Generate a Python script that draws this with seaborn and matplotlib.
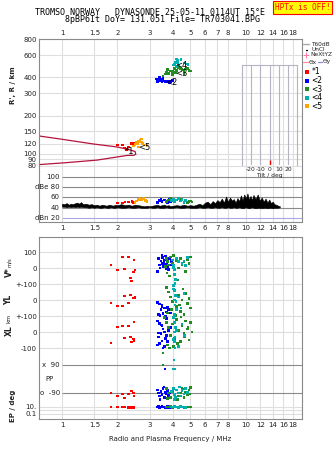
import numpy as np
import pandas as pd
import matplotlib
matplotlib.use("Agg")
import matplotlib.pyplot as plt
import seaborn as sns
from matplotlib.ticker import FixedLocator, NullLocator, FixedFormatter
from matplotlib.lines import Line2D

# ---------------- data ----------------
freq_ticks = [1, 1.5, 2, 3, 4, 5, 6, 7, 8, 10, 12, 14, 16, 18]
freq_labels = ["1", "1.5", "2", "3", "4", "5", "6", "7", "8", "10", "12", "14", "16", "18"]
height_ticks = [800, 600, 400, 300, 200, 150, 120, 100, 90, 80]

# model profile line (freq MHz, height km)
model_f = [0.75, 1.0, 1.5, 2.0, 2.35, 2.5, 2.52, 2.45, 2.27, 1.55, 1.06, 0.75]
model_h = [138, 130, 119, 113, 107, 104, 99, 97, 97, 89, 85, 82]

# echo traces: virtual height
h_red_f = [2.0, 2.13, 2.18, 2.3, 2.38, 2.44, 2.25]
h_red_v = [117, 117, 111, 113, 120, 121, 108]
h_orange_f = [2.45, 2.5, 2.55, 2.6, 2.65, 2.7, 2.75, 2.8, 2.9, 2.6, 2.7, 2.58]
h_orange_v = [115, 118, 122, 125, 128, 124, 120, 117, 116, 113, 131, 119]
h_blue_f = [3.25, 3.3, 3.35, 3.4, 3.45, 3.5, 3.55, 3.6, 3.65, 3.7, 3.75, 3.8, 3.85, 3.9, 3.95, 4.0, 3.4, 3.55, 3.3]
h_blue_v = [390, 380, 385, 378, 385, 372, 380, 375, 372, 370, 368, 372, 365, 370, 375, 378, 400, 395, 372]
h_green_f = [3.55, 3.65, 3.7, 3.8, 3.9, 4.0, 4.1, 4.2, 4.3, 4.4, 4.5, 4.6, 4.7, 4.8, 4.9, 5.0, 4.6, 3.75, 4.0, 4.15]
h_green_v = [410, 425, 440, 430, 450, 445, 470, 455, 480, 470, 460, 450, 465, 470, 455, 450, 430, 460, 420, 440]
h_cyan_f = [4.05, 4.1, 4.15, 4.2, 4.25, 4.3, 4.2, 4.6, 4.75, 4.45, 4.25, 4.85]
h_cyan_v = [500, 510, 530, 560, 520, 500, 490, 520, 510, 557, 545, 505]

# amplitude (dB) trace
amp_f = [1.00, 1.03, 1.06, 1.09, 1.12, 1.15, 1.18, 1.21, 1.24, 1.27, 1.30, 1.35, 1.40, 1.45,
         1.50, 1.55, 1.60, 1.65, 1.70, 1.75, 1.80, 1.85, 1.90, 1.95, 2.00, 2.1, 2.2, 2.3, 2.4,
         2.5, 2.6, 2.7, 2.8, 2.9, 3.0, 3.1, 3.2, 3.3, 3.4, 3.5, 3.6, 3.7, 3.8, 3.9, 4.0, 4.2,
         4.4, 4.6, 4.8, 5.0, 5.2, 5.4, 5.6, 5.8, 6.0, 6.2, 6.4, 6.6, 6.8, 7.0, 7.2, 7.4, 7.6,
         7.8, 8.0, 8.2, 8.4, 8.6, 8.8, 9.0, 9.2, 9.4, 9.6, 9.8, 10.0, 10.2, 10.4, 10.6, 10.8,
         11.0, 11.3, 11.6, 11.9, 12.2, 12.5, 12.8, 13.1, 13.4, 13.7, 14.0, 14.3, 14.6, 15.0, 15.3]
amp_hi = [48, 47, 49, 46, 48, 47, 49, 50, 48, 51, 47, 48, 46, 47,
          45, 46, 44, 46, 45, 44, 46, 45, 44, 46, 45, 47, 45, 46, 44,
          46, 45, 44, 43, 44, 43, 44, 45, 46, 44, 45, 46, 44, 45, 43, 44, 45,
          44, 46, 44, 45, 44, 46, 48, 45, 50, 52, 47, 53, 49, 55, 51, 58, 50,
          62, 52, 60, 54, 57, 50, 59, 53, 64, 55, 66, 58, 68, 56, 63, 55,
          65, 57, 66, 54, 60, 52, 58, 50, 56, 49, 52, 47, 46, 44, 43]
amp_lo = [42, 42, 41, 42, 41, 42, 41, 42, 41, 42, 41, 41, 40, 41,
          40, 41, 40, 40, 41, 40, 40, 41, 40, 40, 41, 40, 40, 41, 40,
          40, 41, 40, 40, 40, 41, 40, 40, 41, 40, 40, 40, 41, 40, 40, 40, 41,
          40, 40, 41, 40, 40, 40, 41, 40, 40, 41, 40, 40, 41, 40, 40, 41, 40,
          40, 41, 40, 40, 41, 40, 40, 41, 40, 39, 40, 41, 40, 39, 40, 41,
          40, 39, 40, 40, 39, 40, 40, 39, 40, 40, 39, 40, 40, 40, 41]

a_red_f = [2.0, 2.13, 2.2, 2.3, 2.4, 2.45]
a_red_v = [49, 49, 51, 51, 52, 50]
a_orange_f = [2.5, 2.55, 2.6, 2.65, 2.7, 2.75, 2.8, 2.85, 2.9]
a_orange_v = [50, 53, 56, 58, 55, 57, 59, 54, 52]
a_blue_f = [3.3, 3.4, 3.45, 3.5, 3.6, 3.7, 3.75, 3.85, 3.9]
a_blue_v = [50, 54, 57, 52, 55, 53, 50, 56, 51]
a_green_f = [3.7, 3.8, 3.9, 4.0, 4.4, 4.5, 4.8, 4.9, 5.0, 5.1]
a_green_v = [52, 55, 58, 53, 57, 55, 50, 52, 53, 51]
a_cyan_f = [3.95, 4.05, 4.1, 4.2, 4.3, 4.4, 4.5, 4.6, 4.7]
a_cyan_v = [54, 57, 52, 55, 58, 53, 56, 50, 54]

# Doppler velocity V* (m/s)
v_red_f = [1.85, 2.13, 2.3, 2.47, 2.0, 2.18, 2.5, 2.44, 2.35, 2.38]
v_red_v = [19, 69, 69, 50, -12, -6, -12, -25, -62, -81]
v_blue_f = [3.35, 3.4, 3.45, 3.5, 3.55, 3.6, 3.65, 3.7, 3.75, 3.8, 3.3, 3.42, 3.58, 3.62, 3.85, 3.9, 3.5, 3.68, 3.78, 3.28, 3.95, 3.52]
v_blue_v = [60, 20, 45, 30, 10, 50, 75, 25, 40, -10, -20, 0, 35, 15, 60, 20, 80, -5, 5, -25, 40, 65]
v_green_f = [3.7, 3.75, 3.8, 3.9, 4.0, 4.2, 4.4, 4.6, 4.8, 5.0, 4.5, 4.1, 3.72, 4.3, 4.9, 4.7, 3.85, 4.05, 3.65, 4.25]
v_green_v = [60, 40, 20, 70, 30, 45, 60, 40, 55, 70, 20, -10, -30, 0, 30, -20, -50, 80, 10, -75]
v_cyan_f = [4.0, 4.05, 4.1, 4.1, 4.15, 4.2, 4.5, 4.6, 4.8, 4.12, 4.3, 4.05, 4.7]
v_cyan_v = [50, 20, -10, -40, -70, 60, 30, 45, 65, -95, 40, 5, 15]

# YL (km)
yl_red_f = [2.18, 2.35, 2.44, 2.47, 1.85, 2.0, 2.13, 2.3, 2.5]
yl_red_v = [25, 31, 12, 12, -19, -37, -37, -19, 15]
yl_blue_f = [3.3, 3.4, 3.5, 3.45, 3.6, 3.7, 3.35, 3.55, 3.8, 3.65, 3.9, 3.5, 3.75, 3.42]
yl_blue_v = [-15, -25, -40, -60, -50, -75, -90, -85, -60, -100, -80, -30, -45, -95]
yl_green_f = [3.7, 3.8, 3.9, 4.0, 4.1, 4.2, 4.3, 4.4, 4.5, 4.6, 4.7, 4.8, 5.0, 3.75, 4.05, 4.35, 4.55, 3.95, 4.9, 4.15]
yl_green_v = [80, 50, 20, -10, 60, -40, 30, -70, 0, -90, 40, -20, -50, -80, 90, -30, 70, -60, 10, -95]
yl_cyan_f = [4.05, 4.1, 4.15, 4.08, 4.12, 4.2, 4.1, 4.3, 4.45, 4.6, 4.05, 4.18]
yl_cyan_v = [90, 60, 30, 0, -30, -60, -90, 20, -50, 40, 70, -10]

# XL (km)
xl_red_f = [2.47, 2.0, 2.13, 2.3, 2.35, 2.18, 2.44, 2.47, 2.38, 1.85]
xl_red_v = [62, 31, 37, 37, -31, -37, -44, -56, -62, -69]
xl_blue_f = [3.3, 3.4, 3.5, 3.55, 3.6, 3.45, 3.7, 3.35, 3.65, 3.8, 3.5, 3.4, 3.75, 3.3, 3.6, 3.9, 3.45, 3.55, 3.7, 3.35]
xl_blue_v = [70, 55, 40, 20, 0, -10, -20, -30, -40, 10, -55, -70, -60, -80, -90, 30, 45, -100, 85, -5]
xl_green_f = [3.6, 3.7, 3.8, 3.9, 4.0, 4.1, 4.2, 4.3, 4.4, 4.5, 4.6, 4.7, 4.8, 4.9, 5.0, 5.1, 3.75, 4.05, 4.25, 4.65, 4.85, 3.85, 4.45]
xl_green_v = [90, 60, 30, -20, 50, -40, 80, 10, -60, 40, -10, 70, 20, -50, 60, 0, -80, -90, -70, -30, 30, -100, 95]
xl_cyan_f = [4.05, 4.1, 4.15, 4.08, 4.12, 4.1, 4.3, 4.5, 4.65, 4.2, 4.05, 4.12]
xl_cyan_v = [90, 60, 30, 0, -30, -60, -90, 50, -20, 10, -45, -100]

# polarization PP (deg)
pp_red_f = [1.85, 2.0, 2.13, 2.18, 2.3, 2.38, 2.44, 2.47]
pp_red_v = [-90, -110, -97, -122, -97, -78, -90, -110]
pp_blue_f = [3.3, 3.35, 3.4, 3.45, 3.5, 3.55, 3.6, 3.65, 3.7, 3.75, 3.8, 3.85, 3.9, 3.42, 3.58, 3.68, 3.63]
pp_blue_v = [-70, -90, -110, -80, -100, -60, -120, -85, -95, -75, -105, -90, -115, -130, -50, -65, 64]
pp_green_f = [3.7, 3.8, 3.9, 4.0, 4.1, 4.2, 4.3, 4.4, 4.5, 4.6, 4.7, 4.8, 4.9, 5.0, 3.75, 4.25, 4.65, 4.95, 3.54, 3.54]
pp_green_v = [-60, -90, -120, -80, -100, -70, -110, -90, -60, -120, -85, -100, -70, -55, -125, -130, -65, -95, 170, 90]
pp_cyan_f = [3.95, 4.05, 4.1, 4.15, 4.2, 4.3, 4.4, 4.5, 4.6, 4.7, 4.8, 4.1, 4.35, 4.06, 4.02, 4.08]
pp_cyan_v = [-80, -60, -100, -120, -70, -90, -110, -75, -95, -60, -85, -130, -50, 122, 64, 64]

# EP (deg)
ep_red_f = [1.85, 2.0, 2.13, 2.18, 2.3, 2.38, 2.44, 2.47]
ep_red_v = [10, 10, 10, 10, 8, 7, 5, 10]
ep_blue_f = [3.3, 3.35, 3.4, 3.45, 3.5, 3.55, 3.6, 3.65, 3.7, 3.75, 3.8, 3.85, 3.9]
ep_blue_v = [10, 12, 8, 10, 14, 9, 11, 7, 10, 13, 8, 5, 10]
ep_green_f = [3.7, 3.8, 3.9, 4.0, 4.1, 4.2, 4.3, 4.4, 4.5, 4.6, 4.7, 4.8, 4.9, 5.0]
ep_green_v = [10, 9, 12, 8, 11, 10, 9, 12, 10, 8, 11, 10, 9, 10]
ep_cyan_f = [3.95, 4.05, 4.1, 4.2, 4.3, 4.4, 4.5, 4.6, 4.7]
ep_cyan_v = [11, 9, 13, 10, 8, 12, 10, 9, 7]

tilt_values = [0]

trace_names = ["*1", "<2", "<3", "<4", "<5"]
trace_colors = ["#ff0000", "#0000ff", "#228b22", "#00b0b0", "#ffa500"]
palette = dict(zip(trace_names, trace_colors))


def frame(pairs):
    rows = []
    for name, fs, vs in pairs:
        for f, v in zip(fs, vs):
            rows.append((name, f, v))
    return pd.DataFrame(rows, columns=["trace", "f", "v"])


df_h = frame([("*1", h_red_f, h_red_v), ("<2", h_blue_f, h_blue_v), ("<3", h_green_f, h_green_v),
              ("<4", h_cyan_f, h_cyan_v), ("<5", h_orange_f, h_orange_v)])
df_a = frame([("*1", a_red_f, a_red_v), ("<5", a_orange_f, a_orange_v), ("<2", a_blue_f, a_blue_v),
              ("<3", a_green_f, a_green_v), ("<4", a_cyan_f, a_cyan_v)])
df_v = frame([("*1", v_red_f, v_red_v), ("<2", v_blue_f, v_blue_v), ("<3", v_green_f, v_green_v),
              ("<4", v_cyan_f, v_cyan_v)])
df_yl = frame([("*1", yl_red_f, yl_red_v), ("<2", yl_blue_f, yl_blue_v), ("<3", yl_green_f, yl_green_v),
               ("<4", yl_cyan_f, yl_cyan_v)])
df_xl = frame([("*1", xl_red_f, xl_red_v), ("<2", xl_blue_f, xl_blue_v), ("<3", xl_green_f, xl_green_v),
               ("<4", xl_cyan_f, xl_cyan_v)])
df_pp = frame([("*1", pp_red_f, pp_red_v), ("<2", pp_blue_f, pp_blue_v), ("<3", pp_green_f, pp_green_v),
               ("<4", pp_cyan_f, pp_cyan_v)])
df_ep = frame([("*1", ep_red_f, ep_red_v), ("<2", ep_blue_f, ep_blue_v), ("<3", ep_green_f, ep_green_v),
               ("<4", ep_cyan_f, ep_cyan_v)])

# ---------------- style ----------------
sns.set_theme(style="white")
plt.rcParams['font.family'] = ['DejaVu Sans']
GRAY = "#8a8a8a"
GRID = "#dedede"
FS = 5

W, H = 335, 451
fig = plt.figure(figsize=(W / 100, H / 100), dpi=100)
L, R = 39, 302
XMIN, XMAX = 0.75, 20.2


def add_ax(top, bottom):
    return fig.add_axes([L / W, 1 - bottom / H, (R - L) / W, (bottom - top) / H])


def setup(ax, spines, labelpos=None):
    ax.set_xscale('log')
    ax.set_xlim(XMIN, XMAX)
    ax.xaxis.set_major_locator(FixedLocator(freq_ticks))
    ax.xaxis.set_minor_locator(NullLocator())
    ax.xaxis.set_major_formatter(FixedFormatter(freq_labels))
    ax.grid(True, axis='x', color=GRID, lw=0.8)
    ax.set_axisbelow(True)
    ax.tick_params(axis='both', length=0, labelsize=FS, colors="#222222")
    ax.tick_params(axis='x', labelbottom=(labelpos == 'bottom'), labeltop=(labelpos == 'top'),
                   pad=2)
    ax.tick_params(axis='y', pad=1.5)
    for s in ['top', 'bottom', 'left', 'right']:
        ax.spines[s].set_visible(s in spines)
        ax.spines[s].set_color(GRAY)
        ax.spines[s].set_linewidth(0.8)
    ax.set_xlabel("")
    ax.set_ylabel("")


def scatter(df, ax, ycol="v"):
    sns.scatterplot(data=df, x="f", y=ycol, hue="trace", palette=palette, marker="s", s=3.5,
                    linewidth=0, legend=False, ax=ax, zorder=4)


# ---- height panel ----
ax1 = add_ax(39, 171)
ax1.set_yscale('log')
sns.lineplot(x=model_f, y=model_h, sort=False, color="#b4143c", lw=0.9, ax=ax1, estimator=None)
scatter(df_h, ax1)
setup(ax1, ['top', 'left', 'right'], 'top')
ax1.set_ylim(73, 805)
ax1.yaxis.set_major_locator(FixedLocator(height_ticks))
ax1.yaxis.set_minor_locator(NullLocator())
ax1.yaxis.set_major_formatter(FixedFormatter([str(t) for t in height_ticks]))
ax1.grid(True, axis='y', color=GRID, lw=0.8)
for txt, f, h in [("*1", 2.32, 105), ("<5", 2.8, 112), ("<2", 3.95, 362), ("<4", 4.45, 500), ("<3", 4.45, 433)]:
    ax1.text(f, h, txt, fontsize=6, ha='center', va='center', color='black', zorder=5)

# ---- amplitude panel ----
ax2 = add_ax(171, 222)
ax2.fill_between(amp_f, amp_lo, amp_hi, color='black', lw=0.4, zorder=3)
scatter(df_a, ax2)
setup(ax2, ['bottom', 'left', 'right'], 'bottom')
ax2.set_ylim(12.2, 111.7)
ax2.set_yticks([])
ax2.hlines([100, 80, 60, 40], 1.0, XMAX, color=GRAY, lw=0.8, zorder=2)
ax2.hlines([20], 1.0, XMAX, color="#a8a8e8", lw=0.8, zorder=2)
for lab, y in [("100", 100), ("dBe 80", 80), ("60", 60), ("40", 40), ("dBn 20", 20)]:
    ax2.text(0.975, y, lab, fontsize=FS, ha='right', va='center', color="#222222")

# ---- V*, YL, XL panel (stacked on one axis; sub-panels offset by 200 units) ----
ax3 = add_ax(237, 352)
OFF_YL, OFF_XL = -200, -400
scatter(df_v, ax3)
df_yl_s = df_yl.assign(y=df_yl["v"] + OFF_YL)
df_xl_s = df_xl.assign(y=df_xl["v"] + OFF_XL)
scatter(df_yl_s, ax3, "y")
scatter(df_xl_s, ax3, "y")
setup(ax3, ['top', 'left', 'right'])
ax3.set_ylim(-525, 194)
ax3.yaxis.set_major_locator(FixedLocator([100, 0, -100, -200, -300, -400, -500]))
ax3.yaxis.set_major_formatter(FixedFormatter(["100", "0", "+-100", "0", "+-100", "0", "-100"]))
ax3.grid(True, axis='y', color=GRID, lw=0.8)

# ---- PP panel ----
ax4 = add_ax(352, 401)
scatter(df_pp, ax4)
setup(ax4, ['left', 'right'])
ax4.set_ylim(-141, 173.5)
ax4.set_yticks([])
ax4.hlines([90, -90], 1.0, XMAX, color=GRAY, lw=0.8, zorder=2)
ax4.text(0.975, 90, "x  90", fontsize=FS, ha='right', va='center', color="#222222")
ax4.text(0.975, -90, "o  -90", fontsize=FS, ha='right', va='center', color="#222222")
ax4.text(0.81, 0, "PP", fontsize=FS, ha='left', va='center', color="#222222")

# ---- EP panel ----
ax5 = add_ax(401, 419)
ax5.set_yscale('log')
scatter(df_ep, ax5)
setup(ax5, ['left', 'right', 'bottom'], 'bottom')
ax5.set_ylim(0.0037, 518)
ax5.yaxis.set_major_locator(FixedLocator([10, 1, 0.1]))
ax5.yaxis.set_minor_locator(NullLocator())
ax5.yaxis.set_major_formatter(FixedFormatter(["10.", "", "0.1"]))
ax5.grid(True, axis='y', color=GRID, lw=0.8)

# ---- tilt inset ----
axt = fig.add_axes([241.7 / W, 1 - 165 / H, 55.6 / W, 100 / H])
axt.set_facecolor('none')
axt.set_xlim(-30, 30)
axt.set_ylim(0, 1)
axt.vlines([-20, -10, 0, 10, 20], 0, 1, color="#b4b4c4", lw=0.8)
axt.vlines(tilt_values, 0, 0.05, color="#ff0000", lw=1.0)
axt.set_yticks([])
axt.set_xticks([-20, -10, 0, 10, 20])
axt.set_xticklabels(["-20", "-10", "0", "10", "20"])
axt.tick_params(axis='x', length=0, labelsize=4.3, pad=1.5, colors="#222222")
axt.set_xlabel("Tilt / deg", fontsize=4.3, labelpad=0.3, color="#222222")
for s in ['top', 'left', 'right']:
    axt.spines[s].set_color("#b4b4c4")
    axt.spines[s].set_linewidth(0.8)
axt.spines['bottom'].set_visible(False)
axt.set_zorder(10)

# ---- text ----
def ftext(x, y, s, **kw):
    fig.text(x / W, 1 - y / H, s, **kw)

mono = ['DejaVu Sans Mono']
ftext(35, 12.5, "TROMSO NORWAY   DYNASONDE 25-05-11 0114UT 15°E", fontsize=6, family=mono,
      ha='left', va='center', color='black')
ftext(65, 20, "8pBP6It DoY= 131.051 File= TR703041.BPG", fontsize=6, family=mono,
      ha='left', va='center', color='black')
ftext(302.5, 7.5, "HPTx is OFF!", fontsize=5.6, family=mono, ha='center', va='center', color='#ff0000',
      bbox=dict(boxstyle='square,pad=0.25', fc='#ffff00', ec='#ff0000', lw=0.8))

ftext(170.5, 439, "Radio and Plasma Frequency / MHz", fontsize=FS, ha='center', va='center', color="#222222")
ftext(13, 85, "R', R / km", fontsize=FS, rotation=90, ha='center', va='center', fontweight='bold', color="#222222")
ftext(9, 272, "V*", fontsize=FS + 0.5, rotation=90, ha='center', va='center', fontweight='bold', color="#222222")
ftext(9.5, 262, "m/s", fontsize=3.8, rotation=90, ha='center', va='center', color="#222222")
ftext(9, 300, "YL", fontsize=FS + 0.5, rotation=90, ha='center', va='center', fontweight='bold', color="#222222")
ftext(9, 318, "km", fontsize=4.2, rotation=90, ha='center', va='center', color="#222222")
ftext(9, 331, "XL", fontsize=FS + 0.5, rotation=90, ha='center', va='center', fontweight='bold', color="#222222")
ftext(13, 406, "EP / deg", fontsize=FS, rotation=90, ha='center', va='center', fontweight='bold', color="#222222")

# ---- legend (right side) ----
def fline(x0, x1, y, **kw):
    fig.add_artist(Line2D([x0 / W, x1 / W], [1 - y / H, 1 - y / H], transform=fig.transFigure, **kw))

lfs = 4.2
fline(303, 309, 44, color="#a8a8a8", lw=1.0)
ftext(311, 44, "T60dB", fontsize=lfs, ha='left', va='center', color="#222222")
fline(306, 306.5, 49.5, color="black", lw=1.0)
ftext(311, 49.5, "UnCl", fontsize=lfs, ha='left', va='center', color="#222222")
fig.add_artist(Line2D([306 / W], [1 - 55 / H], marker='+', color="#ff7aa0", markersize=4, mew=0.7,
                      transform=fig.transFigure))
ftext(310.5, 55, "NeXtYZ", fontsize=lfs, ha='left', va='center', color="#222222")
fline(303, 308, 62, color="#ff8aa0", lw=0.9)
ftext(308.5, 62, "Θx", fontsize=lfs, ha='left', va='center', color="#222222")
fline(318, 322, 62, color="#8a8ae8", lw=0.9)
ftext(322.5, 62, "Θy", fontsize=lfs, ha='left', va='center', color="#222222")
for i, (name, col) in enumerate(zip(trace_names, trace_colors)):
    y = 72 + i * 8.6
    fig.add_artist(Line2D([306.5 / W], [1 - y / H], marker='s', color=col, markersize=2.4, mew=0,
                          transform=fig.transFigure))
    ftext(311.5, y, name, fontsize=5.5, ha='left', va='center', color="black")

fig.savefig("out.png", dpi=100)
